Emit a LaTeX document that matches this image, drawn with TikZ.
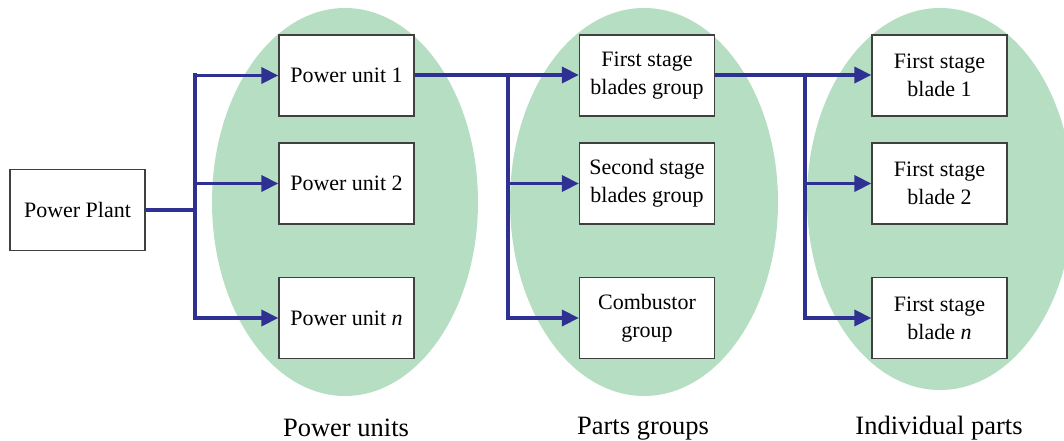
\documentclass[tikz,border=0pt]{standalone}
\usepackage{fontspec}
\setmainfont{Liberation Serif}
\usetikzlibrary{arrows.meta}
\definecolor{groupgreen}{HTML}{B6DEC3}
\definecolor{linkblue}{HTML}{2E3192}
\definecolor{boxgray}{HTML}{404040}
\begin{document}
\begin{tikzpicture}[x=1pt,y=-1pt,
  unitbox/.style={draw=boxgray, line width=1.3pt, fill=white,
    minimum width=135pt, minimum height=81pt, inner sep=0pt,
    align=center, font=\fontsize{22}{28}\selectfont},
  link/.style={draw=linkblue, line width=3.5pt},
  trunk/.style={link, line cap=rect},
  feed/.style={link, -{Triangle[length=17pt,width=16pt]}},
  grouplabel/.style={anchor=base, font=\fontsize{26.5}{32}\selectfont}]

\path[use as bounding box] (0,0) rectangle (1064,441);
\begin{scope}
  \clip (0,0) rectangle (1064,441);
  % shaded groups
  \fill[groupgreen] (345,202) ellipse [x radius=133, y radius=194];
  \fill[groupgreen] (644,202) ellipse [x radius=134, y radius=194];
  \fill[groupgreen] (940,199) ellipse [x radius=133, y radius=191];
\end{scope}

% boxes
\node[unitbox] (pp)  at (77.5,210)  {Power Plant};
\node[unitbox] (pu1) at (346.5,75.5) {Power unit 1};
\node[unitbox] (pu2) at (346.5,183.5) {Power unit 2};
\node[unitbox] (pun) at (346.5,318) {Power unit \textit{n}};
\node[unitbox] (g1)  at (647,75.5) {First stage\\blades group};
\node[unitbox] (g2)  at (647,183.5) {Second stage\\blades group};
\node[unitbox] (g3)  at (647,318) {Combustor\\group};
\node[unitbox] (b1)  at (939.5,75.5) {First stage\\blade 1};
\node[unitbox] (b2)  at (939.5,183.5) {First stage\\blade 2};
\node[unitbox] (bn)  at (939.5,318) {First stage\\blade \textit{n}};

% junction points
\coordinate (j1) at (195,210);
\coordinate (j2) at (508,75);
\coordinate (j3) at (805,75);

% plant to power units
\draw[link, line width=4.5pt] (pp.east) -- (j1);
\draw[trunk, line width=4pt] (j1 |- pu1) -- (j1 |- pun);
\draw[feed] (j1 |- pu1) -- (pu1.west);
\draw[feed] (j1 |- pu2) -- (pu2.west);
\draw[feed] (j1 |- pun) -- (pun.west);

% power unit 1 to parts groups
\draw[link] (pu1.east |- j2) -- (j2);
\draw[trunk] (j2) -- (j2 |- g3);
\draw[feed] (j2) -- (g1.west |- j2);
\draw[feed] (j2 |- g2) -- (g2.west);
\draw[feed] (j2 |- g3) -- (g3.west);

% first stage group to individual blades
\draw[link] (g1.east |- j3) -- (j3);
\draw[trunk] (j3) -- (j3 |- bn);
\draw[feed] (j3) -- (b1.west |- j3);
\draw[feed] (j3 |- b2) -- (b2.west);
\draw[feed] (j3 |- bn) -- (bn.west);

% group captions
\node[grouplabel] (lu) at (346,436) {Power units};
\node[grouplabel] (lg) at (643,434) {Parts groups};
\node[grouplabel] (li) at (939,434) {Individual parts};
\end{tikzpicture}
\end{document}
